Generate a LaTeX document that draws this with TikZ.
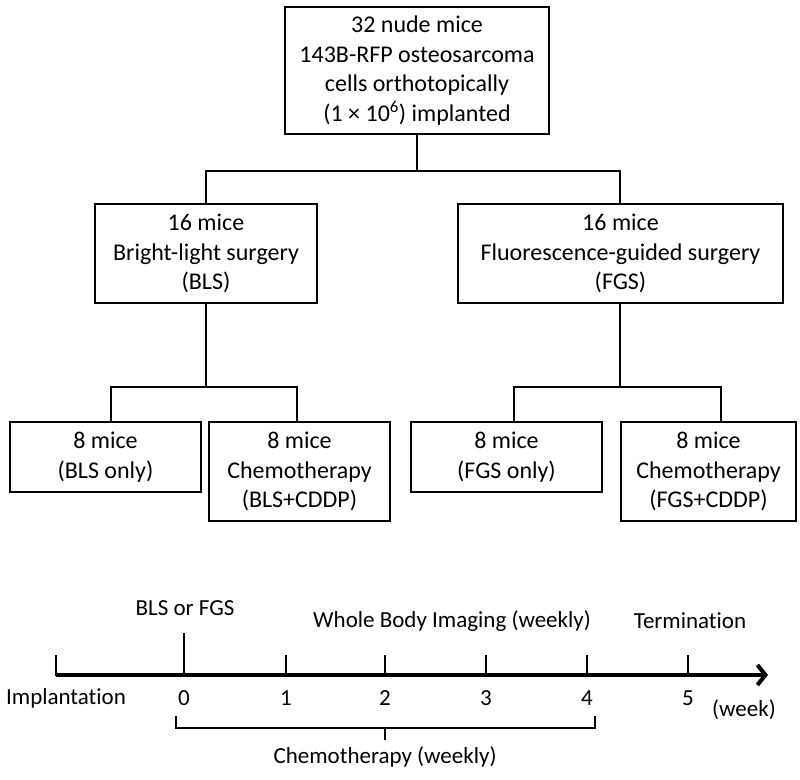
\documentclass[tikz,border=0pt]{standalone}
\usepackage{fontspec}
\setmainfont{Carlito}[RawFeature={-liga;-clig;-calt}]
\usetikzlibrary{arrows.meta}
\begin{document}
\begin{tikzpicture}[x=1pt,y=-1pt,
  box/.style={draw,line width=1.4pt,rectangle,align=center,inner sep=0pt,
    font=\fontsize{24}{29.5}\selectfont},
  conn/.style={line width=1.2pt},
  lbl/.style={font=\fontsize{23}{28}\selectfont,inner sep=0pt},
  tick/.style={line width=1.8pt}]
\useasboundingbox (0,0) rectangle (800,779);
% boxes
\node[box,minimum width=264,minimum height=127] (top) at (417,70.5)
  {32 nude mice\\143B-RFP osteosarcoma\\cells orthotopically\\(1 × 10\textsuperscript{6}) implanted};
\node[box,minimum width=222,minimum height=99] (bls) at (206,253.5)
  {16 mice\\Bright-light surgery\\(BLS)};
\node[box,minimum width=325,minimum height=99] (fgs) at (620.5,253.5)
  {16 mice\\Fluorescence-guided surgery\\(FGS)};
\node[box,minimum width=191,minimum height=70] (b1) at (105.5,457)
  {8 mice\\(BLS only)};
\node[box,minimum width=181,minimum height=99] (b2) at (299.5,471.5)
  {8 mice\\Chemotherapy\\(BLS+CDDP)};
\node[box,minimum width=191,minimum height=70] (b3) at (506.5,457)
  {8 mice\\(FGS only)};
\node[box,minimum width=175,minimum height=99] (b4) at (708.5,471.5)
  {8 mice\\Chemotherapy\\(FGS+CDDP)};
% connectors
\coordinate (j0) at (417,171);
\draw[conn] (top.south) -- (j0);
\draw[conn] (bls.north) |- (j0) -| (fgs.north -| 620,0);
\coordinate (j1) at (206,387);
\draw[conn] (bls.south) -- (j1);
\draw[conn] ([xshift=5.5pt]b1.north) |- (j1) -| ([xshift=-2.5pt]b2.north);
\coordinate (j2) at (620,387);
\draw[conn] (fgs.south -| j2) -- (j2);
\draw[conn] ([xshift=7.5pt]b3.north) |- (j2) -| ([xshift=12.5pt]b4.north);
% timeline
\coordinate (tl0) at (56,675);
\coordinate (tlend) at (768,675);
\draw[line width=4pt,-{Straight Barb[length=8pt,width=20pt,line width=4pt]}] (tl0) -- (tlend);
\draw[tick] (56,655) -- (56,676);
\draw[tick] (184,633) -- (184,675);
\foreach \i/\x in {1/286,2/385,3/486,4/587,5/688}{
  \draw[tick] (\x,655) -- (\x,675);
}
\foreach \i/\x in {0/184,1/286,2/385,3/486,4/587,5/688}{
  \node[lbl] (n\i) at (\x,698) {\i};
}
\node[lbl] (impl) at (66,698) {Implantat\kern0pt ion};
\node[lbl] (week) at (744,710) {(week)};
\node[lbl] (blsfgs) at (185,608) {BLS or FGS};
\node[lbl] (wbi) at (452,621) {Whole Body Imaging (weekly)};
\node[lbl] (term) at (690,621) {Terminat\kern0pt ion};
% brace
\draw[line width=1.8pt] (176,716) -- (176,728) -- (595,728) -- (595,716);
\draw[line width=1.8pt] (385,728) -- (385,740);
\node[lbl] (chemo) at (385,757) {Chemotherapy (weekly)};
\end{tikzpicture}
\end{document}
